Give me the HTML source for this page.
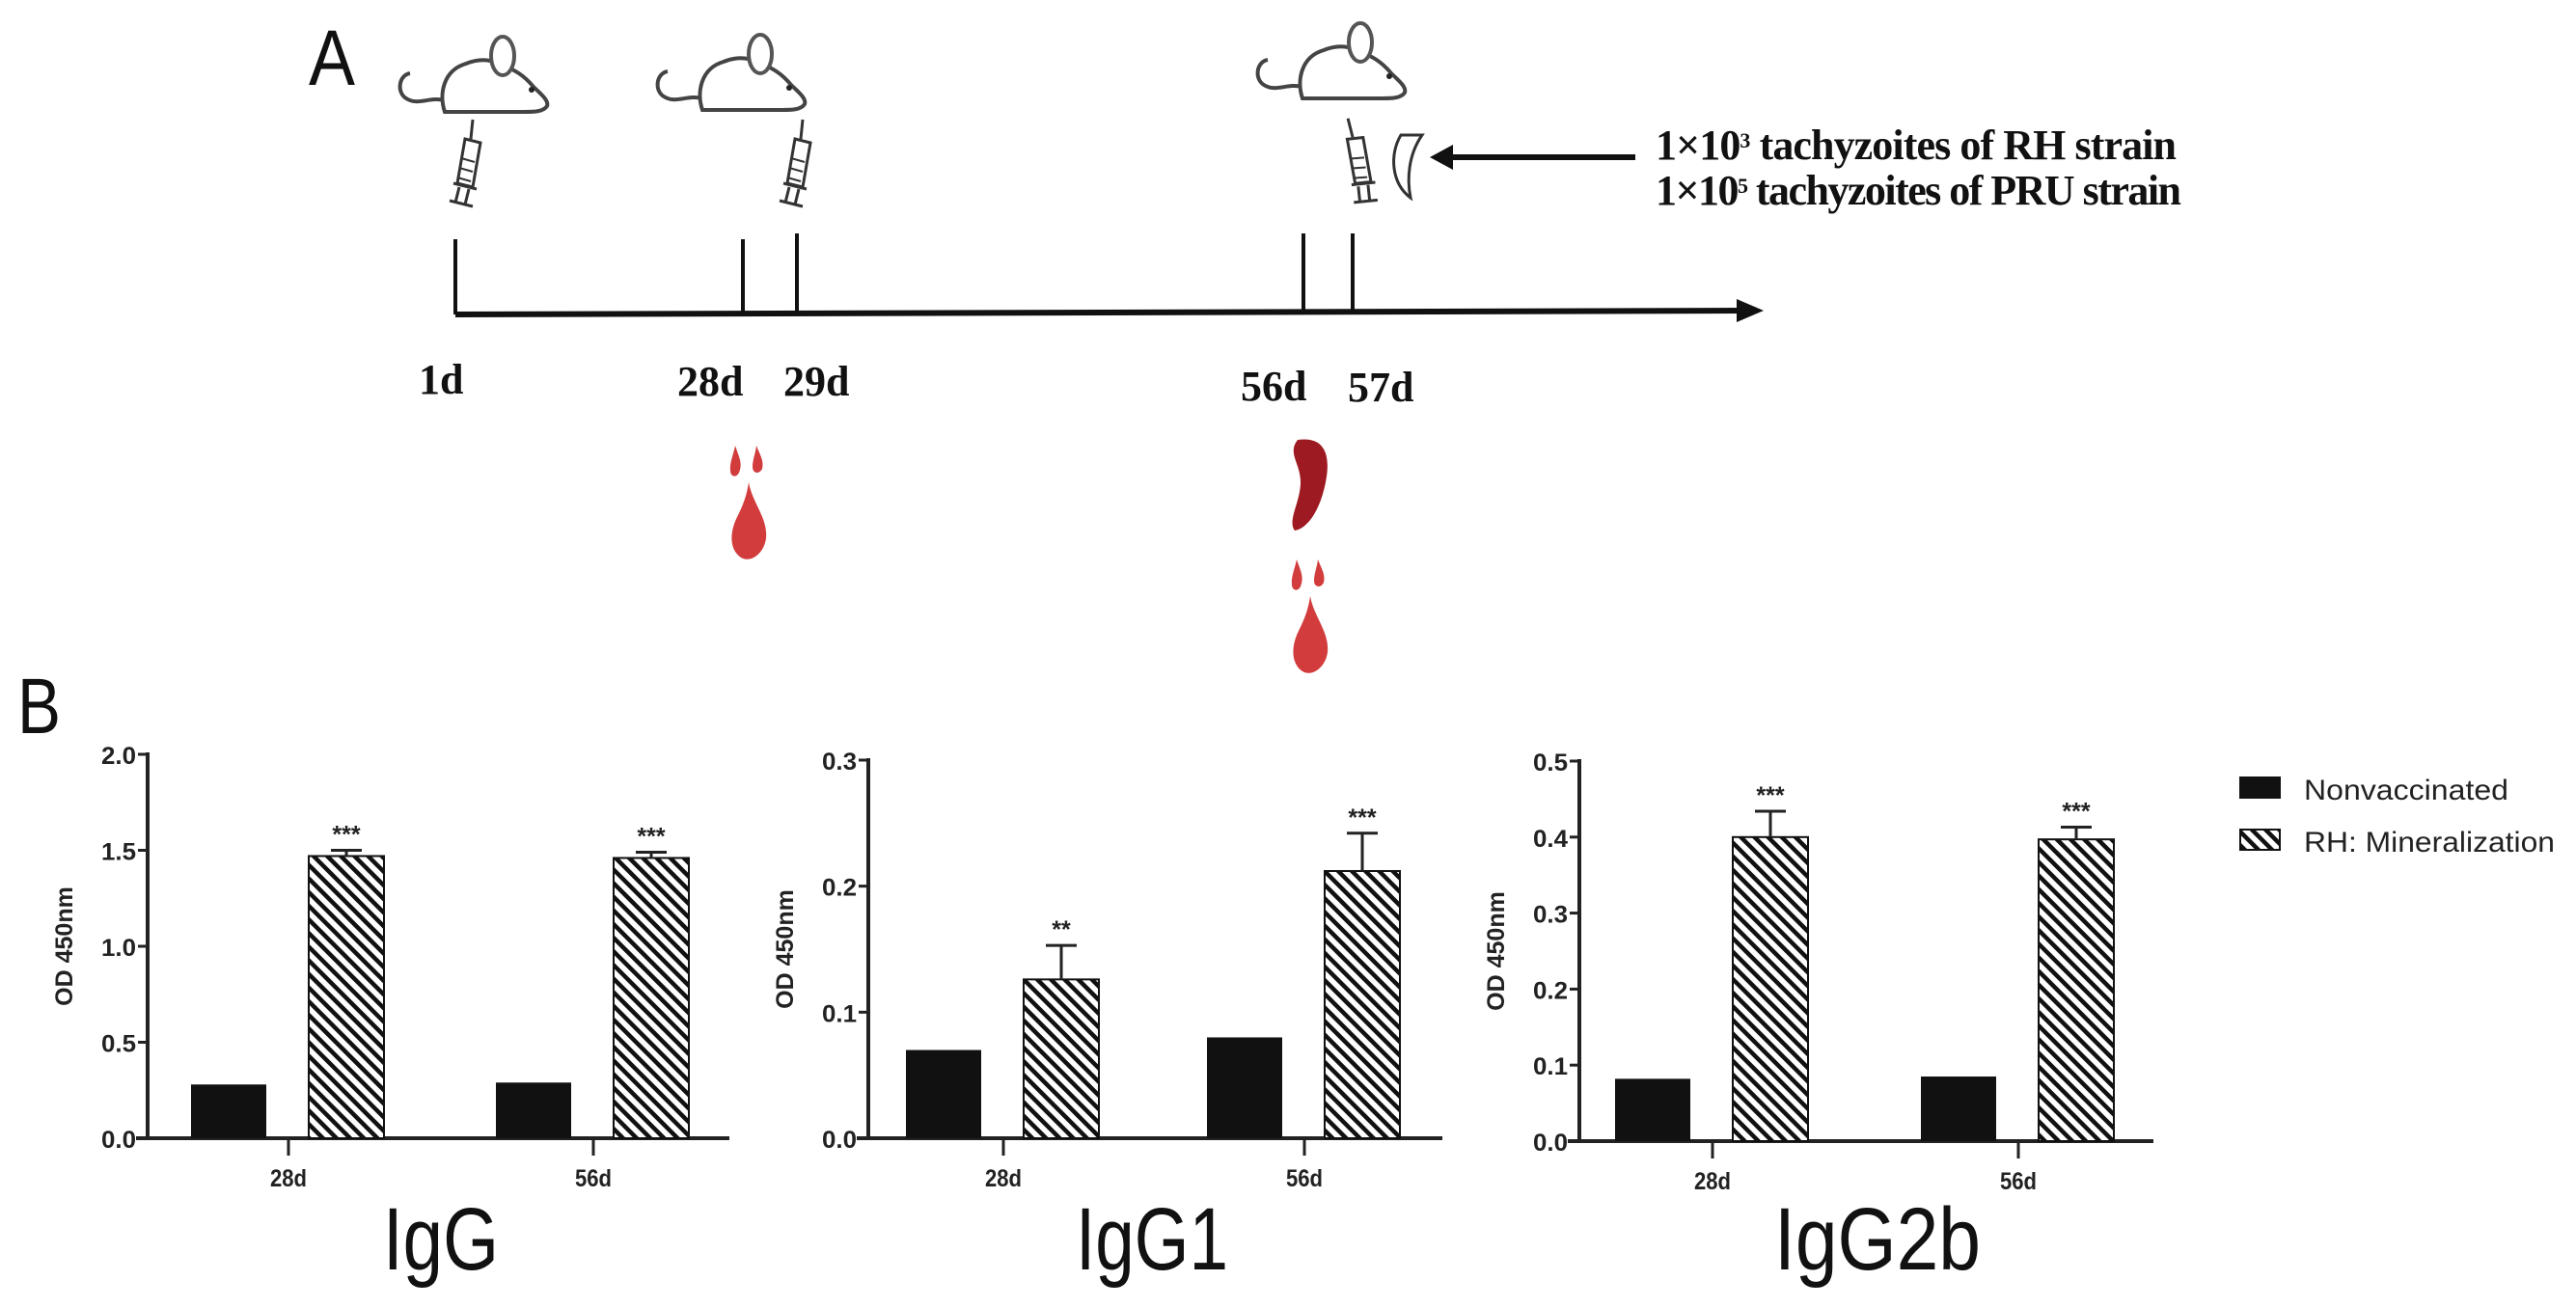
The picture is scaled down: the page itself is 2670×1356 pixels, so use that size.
<!DOCTYPE html>
<html><head><meta charset="utf-8"><style>
html,body{margin:0;padding:0;background:#fff;}
svg{display:block;}
.tick{font-family:"Liberation Sans",sans-serif;font-weight:bold;font-size:25px;fill:#222;}
.ttl{font-family:"Liberation Sans",sans-serif;font-size:92px;fill:#111;}
.tl{font-family:"Liberation Serif",serif;font-weight:bold;font-size:44px;fill:#111;}
.leg{font-family:"Liberation Sans",sans-serif;font-size:30px;fill:#222;}
</style></head><body>
<svg id="fig" width="2670" height="1356" viewBox="0 0 2670 1356" xmlns="http://www.w3.org/2000/svg">
<defs>
<pattern id="hatch" width="10" height="10" patternUnits="userSpaceOnUse" patternTransform="rotate(-45)">
<rect width="10" height="10" fill="#fff"/><rect x="0" y="0" width="4.5" height="10" fill="#111"/>
</pattern>
<g id="mouse">
<path d="M22,38 C10,40 8,58 18,64 C30,72 42,62 58,66" fill="none" stroke="#444" stroke-width="4"/>
<path d="M58,78 C52,60 56,35 80,28 C95,22 108,24 118,30 C130,34 140,40 150,52 C158,60 166,66 164,72 C160,78 150,78 140,78 Z" fill="#fff" stroke="#444" stroke-width="4"/>
<ellipse cx="118" cy="20" rx="12" ry="20" fill="#fff" stroke="#555" stroke-width="4"/>
<circle cx="148" cy="55" r="3" fill="#222"/>
</g>
<g id="syringe">
<path d="M20,0 L18,20" stroke="#333" stroke-width="3"/>
<path d="M12,20 L28,24 L20,70 L4,66 Z" fill="#fff" stroke="#333" stroke-width="3"/>
<path d="M8,40 L22,44 M6,50 L20,54 M4,60 L18,64" stroke="#333" stroke-width="2"/>
<path d="M0,66 L24,72 M6,70 L2,86 M16,72 L12,88 M-4,84 L20,90" stroke="#333" stroke-width="3"/>
</g>
<g id="drops">
<path d="M10,0 C14,12 18,18 14,28 C11,34 5,32 5,26 C4,18 8,10 10,0 Z" fill="#d23c3c"/>
<path d="M32,0 C36,10 40,16 38,24 C35,30 28,29 28,22 C28,15 31,8 32,0 Z" fill="#d23c3c"/>
<path d="M24,38 C28,60 44,75 42,96 C40,112 26,122 16,116 C4,108 4,90 12,74 C18,62 22,52 24,38 Z" fill="#d23c3c"/>
</g>
</defs>

<!-- Panel A -->
<text x="320" y="88" font-family="Liberation Sans, sans-serif" font-size="82" fill="#111" textLength="48" lengthAdjust="spacingAndGlyphs">A</text>
<use href="#mouse" x="403" y="38"/>
<use href="#mouse" x="670" y="36"/>
<use href="#mouse" x="1292" y="24"/>
<use href="#syringe" x="470" y="124"/>
<use href="#syringe" x="812" y="124"/>
<use href="#syringe" x="1390" y="124" transform="rotate(-20 1400 160)"/>
<path d="M1452,140 C1440,160 1442,190 1462,205 C1458,185 1460,160 1474,140 Z" fill="#fff" stroke="#333" stroke-width="3"/>
<g>
<line x1="1695" y1="163" x2="1500" y2="163" stroke="#111" stroke-width="6"/>
<path d="M1482,163 L1506,150 L1506,176 Z" fill="#111"/>
</g>
<text x="1716" y="165" class="tl" font-size="34" textLength="540">1×10<tspan font-size="22" dy="-12">3</tspan><tspan dy="12"> tachyzoites of  RH strain</tspan></text>
<text x="1716" y="212" class="tl" font-size="34" textLength="545">1×10<tspan font-size="22" dy="-12">5</tspan><tspan dy="12"> tachyzoites of PRU strain</tspan></text>
<g>
<line x1="472" y1="326" x2="1805" y2="322" stroke="#111" stroke-width="6"/>
<path d="M1828,322 L1800,310 L1800,334 Z" fill="#111"/>
<line x1="472" y1="248" x2="472" y2="326" stroke="#111" stroke-width="4"/>
<line x1="770" y1="248" x2="770" y2="326" stroke="#111" stroke-width="4"/>
<line x1="826" y1="242" x2="826" y2="326" stroke="#111" stroke-width="4"/>
<line x1="1351" y1="242" x2="1351" y2="324" stroke="#111" stroke-width="4"/>
<line x1="1402" y1="242" x2="1402" y2="324" stroke="#111" stroke-width="4"/>
</g>
<text x="434" y="408" class="tl">1d</text>
<text x="702" y="410" class="tl">28d</text>
<text x="812" y="410" class="tl">29d</text>
<text x="1286" y="415" class="tl">56d</text>
<text x="1397" y="416" class="tl">57d</text>
<use href="#drops" x="752" y="462"/>
<path d="M1345,456 C1372,452 1380,470 1374,500 C1368,530 1355,548 1342,550 C1334,540 1348,520 1348,500 C1348,480 1334,470 1345,456 Z" fill="#9e1a22"/>
<use href="#drops" x="1334" y="580"/>

<!-- Panel B -->
<text x="18" y="760" font-family="Liberation Sans, sans-serif" font-size="82" fill="#111" textLength="45" lengthAdjust="spacingAndGlyphs">B</text>
<g id="charts"></g>

<g>
<rect x="2321" y="805" width="43" height="23" fill="#111"/>
<text x="2388" y="829" class="leg" textLength="212" lengthAdjust="spacingAndGlyphs">Nonvaccinated</text>
<rect x="2322" y="860" width="41" height="21" fill="url(#hatch)" stroke="#111" stroke-width="2"/>
<text x="2388" y="883" class="leg" textLength="260" lengthAdjust="spacingAndGlyphs">RH: Mineralization</text>
</g>
</svg>
<script>
const categories = ["28d", "56d"];
const igGNon = [0.28, 0.29];
const igGRH = [1.47, 1.46];
const igGErr = [0.03, 0.03];
const igGStars = ["***", "***"];
const igGTicks = ["0.0", "0.5", "1.0", "1.5", "2.0"];
const igG1Non = [0.070, 0.080];
const igG1RH = [0.126, 0.212];
const igG1Err = [0.027, 0.030];
const igG1Stars = ["**", "***"];
const igG1Ticks = ["0.0", "0.1", "0.2", "0.3"];
const igG2bNon = [0.082, 0.085];
const igG2bRH = [0.400, 0.397];
const igG2bErr = [0.034, 0.016];
const igG2bStars = ["***", "***"];
const igG2bTicks = ["0.0", "0.1", "0.2", "0.3", "0.4", "0.5"];

const NS = "http://www.w3.org/2000/svg";
const root = document.getElementById("charts");
function mk(tag, attrs, parent) {
  const e = document.createElementNS(NS, tag);
  for (const k in attrs) e.setAttribute(k, attrs[k]);
  parent.appendChild(e);
  return e;
}
function chart(cfg) {
  const g = mk("g", {}, root);
  
  
  const ymax = parseFloat(cfg.ticks[cfg.ticks.length - 1]);
  const y = v => cfg.y0 - (v / ymax) * (cfg.y0 - cfg.yTop);
  const xc = i => cfg.cx[i];
  const ya = mk("line", {x1: cfg.ax, y1: cfg.yTop - 2, x2: cfg.ax, y2: cfg.y0 + 2, stroke: "#222", "stroke-width": 4}, g);
  
  
  const xa = mk("line", {x1: cfg.ax - 12, y1: cfg.y0, x2: cfg.xEnd, y2: cfg.y0, stroke: "#222", "stroke-width": 4}, g);
  
  
  cfg.ticks.forEach(t => {
    const yy = y(parseFloat(t));
    mk("line", {x1: cfg.ax - 10, y1: yy, x2: cfg.ax, y2: yy, stroke: "#222", "stroke-width": 3}, g);
    const tx = mk("text", {x: cfg.ax - 12, y: yy + 10, "text-anchor": "end", class: "tick", "font-size": "28", textLength: "36", lengthAdjust: "spacingAndGlyphs"}, g);
    tx.textContent = t;
    
    
  });
  const yl = mk("text", {x: 0, y: 0, transform: `translate(${cfg.ax - 78},${(cfg.y0 + cfg.yTop) / 2}) rotate(-90)`, "text-anchor": "middle", class: "tick", "font-size": "27"}, g);
  yl.textContent = "OD 450nm";
  
  
  categories.forEach((c, i) => {
    const cx = xc(i);
    mk("line", {x1: cx, y1: cfg.y0, x2: cx, y2: cfg.y0 + 18, stroke: "#222", "stroke-width": 3}, g);
    const lt = mk("text", {x: cx, y: cfg.y0 + 50, "text-anchor": "middle", class: "tick", "font-size": "27", textLength: "38", lengthAdjust: "spacingAndGlyphs"}, g);
    lt.textContent = c;
    
    
    const bw = 78;
    const b1 = mk("rect", {x: cx - 101, y: y(cfg.non[i]), width: bw, height: cfg.y0 - y(cfg.non[i]), fill: "#111"}, g);
    
    
    const top = y(cfg.rh[i]);
    const b2 = mk("rect", {x: cx + 21, y: top, width: bw, height: cfg.y0 - top, fill: "url(#hatch)", stroke: "#111", "stroke-width": 2}, g);
    
    
    const et = y(cfg.rh[i] + cfg.err[i]);
    const ex = cx + 21 + bw / 2;
    const eb = mk("path", {d: `M${ex},${top} L${ex},${et} M${ex - 16},${et} L${ex + 16},${et}`, stroke: "#222", "stroke-width": 3, fill: "none"}, g);
    
    
    const st = mk("text", {x: ex, y: et - 8, "text-anchor": "middle", class: "tick", "font-size": "22"}, g);
    st.textContent = cfg.stars[i];
    
    
  });
  const tt = mk("text", {x: cfg.titleX, y: 1316, "text-anchor": "middle", class: "ttl", textLength: cfg.titleW, lengthAdjust: "spacingAndGlyphs"}, g);
  tt.textContent = cfg.title;
  
  
}
chart({name: "chart-igg", ax: 153, yTop: 782, y0: 1180, xEnd: 756, cx: [299, 615], non: igGNon, rh: igGRH, err: igGErr, stars: igGStars, ticks: igGTicks, title: "IgG", titleX: 457, titleW: 120});
chart({name: "chart-igg1", ax: 900, yTop: 788, y0: 1180, xEnd: 1495, cx: [1040, 1352], non: igG1Non, rh: igG1RH, err: igG1Err, stars: igG1Stars, ticks: igG1Ticks, title: "IgG1", titleX: 1194, titleW: 158});
chart({name: "chart-igg2b", ax: 1637, yTop: 789, y0: 1183, xEnd: 2232, cx: [1775, 2092], non: igG2bNon, rh: igG2bRH, err: igG2bErr, stars: igG2bStars, ticks: igG2bTicks, title: "IgG2b", titleX: 1946, titleW: 214});
</script>
</body></html>
